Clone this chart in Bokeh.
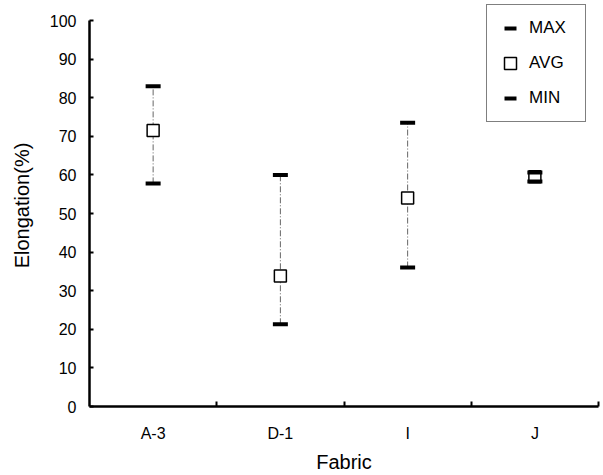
from bokeh.plotting import figure
from bokeh.models import FixedTicker, Range1d, Legend, LegendItem, ColumnDataSource
from bokeh.embed import file_html
from bokeh.resources import INLINE

categories = ["A-3", "D-1", "I", "J"]
max_vals = [83, 60, 73.5, 60.6]
avg_vals = [71.5, 33.8, 54, 59.5]
min_vals = [57.8, 21.3, 36, 58.3]
y_ticks = [0, 10, 20, 30, 40, 50, 60, 70, 80, 90, 100]

xpos = [i + 0.5 for i in range(len(categories))]
src = ColumnDataSource(dict(x=xpos, mx=max_vals, av=avg_vals, mn=min_vals))

FONT = "Liberation Sans"
p = figure(width=603, height=475, output_backend="svg", toolbar_location=None,
           x_range=Range1d(0, len(categories)), y_range=Range1d(0, 104.15),
           min_border_left=89, min_border_right=5, min_border_top=4, min_border_bottom=69)
p.outline_line_color = None
p.xgrid.visible = False
p.ygrid.visible = False
p.background_fill_color = "white"
p.border_fill_color = "white"

p.segment(x0="x", y0="mn", x1="x", y1="mx", source=src, line_color="#666666",
          line_width=1, line_dash="6 2 1 2")
r_avg = p.scatter(x="x", y="av", source=src, marker="square", size=12, line_width=1.5,
                  line_color="black", fill_color="white")
r_max = p.scatter(x="x", y="mx", source=src, marker="dash", size=15, line_width=4,
                  line_color="black")
r_min = p.scatter(x="x", y="mn", source=src, marker="dash", size=15, line_width=4,
                  line_color="black")

# axes
xa = p.xaxis[0]
xa.ticker = FixedTicker(ticks=xpos, minor_ticks=[1, 2, 3, 4])
xa.major_label_overrides = {x: c for x, c in zip(xpos, categories)}
xa.major_tick_in = 0
xa.major_tick_out = 0
xa.minor_tick_in = 5
xa.minor_tick_out = 0
xa.minor_tick_line_width = 2
xa.axis_line_width = 2.5
xa.major_label_standoff = 18
xa.axis_label = "Fabric"
xa.axis_label_standoff = 6

ya = p.yaxis[0]
ya.ticker = FixedTicker(ticks=y_ticks)
ya.bounds = (0, 100)
ya.major_tick_in = 4
ya.major_tick_out = 0
ya.major_tick_line_width = 2
ya.minor_tick_line_color = None
ya.axis_line_width = 2.5
ya.major_label_standoff = 13
ya.axis_label = "Elongation(%)"
ya.axis_label_standoff = 14

for ax in (xa, ya):
    ax.major_label_text_font = FONT
    ax.major_label_text_font_size = "16px"
    ax.major_label_text_color = "black"
    ax.axis_label_text_font = FONT
    ax.axis_label_text_font_size = "20px"
    ax.axis_label_text_font_style = "normal"
    ax.axis_label_text_color = "black"
    ax.axis_line_color = "black"
    ax.major_tick_line_color = "black"
xa.minor_tick_line_color = "black"

legend = Legend(items=[LegendItem(label="MAX", renderers=[r_max]),
                       LegendItem(label="AVG", renderers=[r_avg]),
                       LegendItem(label="MIN", renderers=[r_min])],
                location=(397, 284))
legend.border_line_color = "black"
legend.border_line_width = 1
legend.label_text_font = FONT
legend.label_text_font_size = "17px"
legend.label_text_color = "black"
legend.label_standoff = 4
legend.glyph_width = 30
legend.glyph_height = 30
legend.label_height = 30
legend.label_width = 48
legend.spacing = 5
legend.padding = 8
legend.margin = 0
legend.background_fill_alpha = 1
p.add_layout(legend)

open("out.html", "w").write(file_html(p, INLINE))
